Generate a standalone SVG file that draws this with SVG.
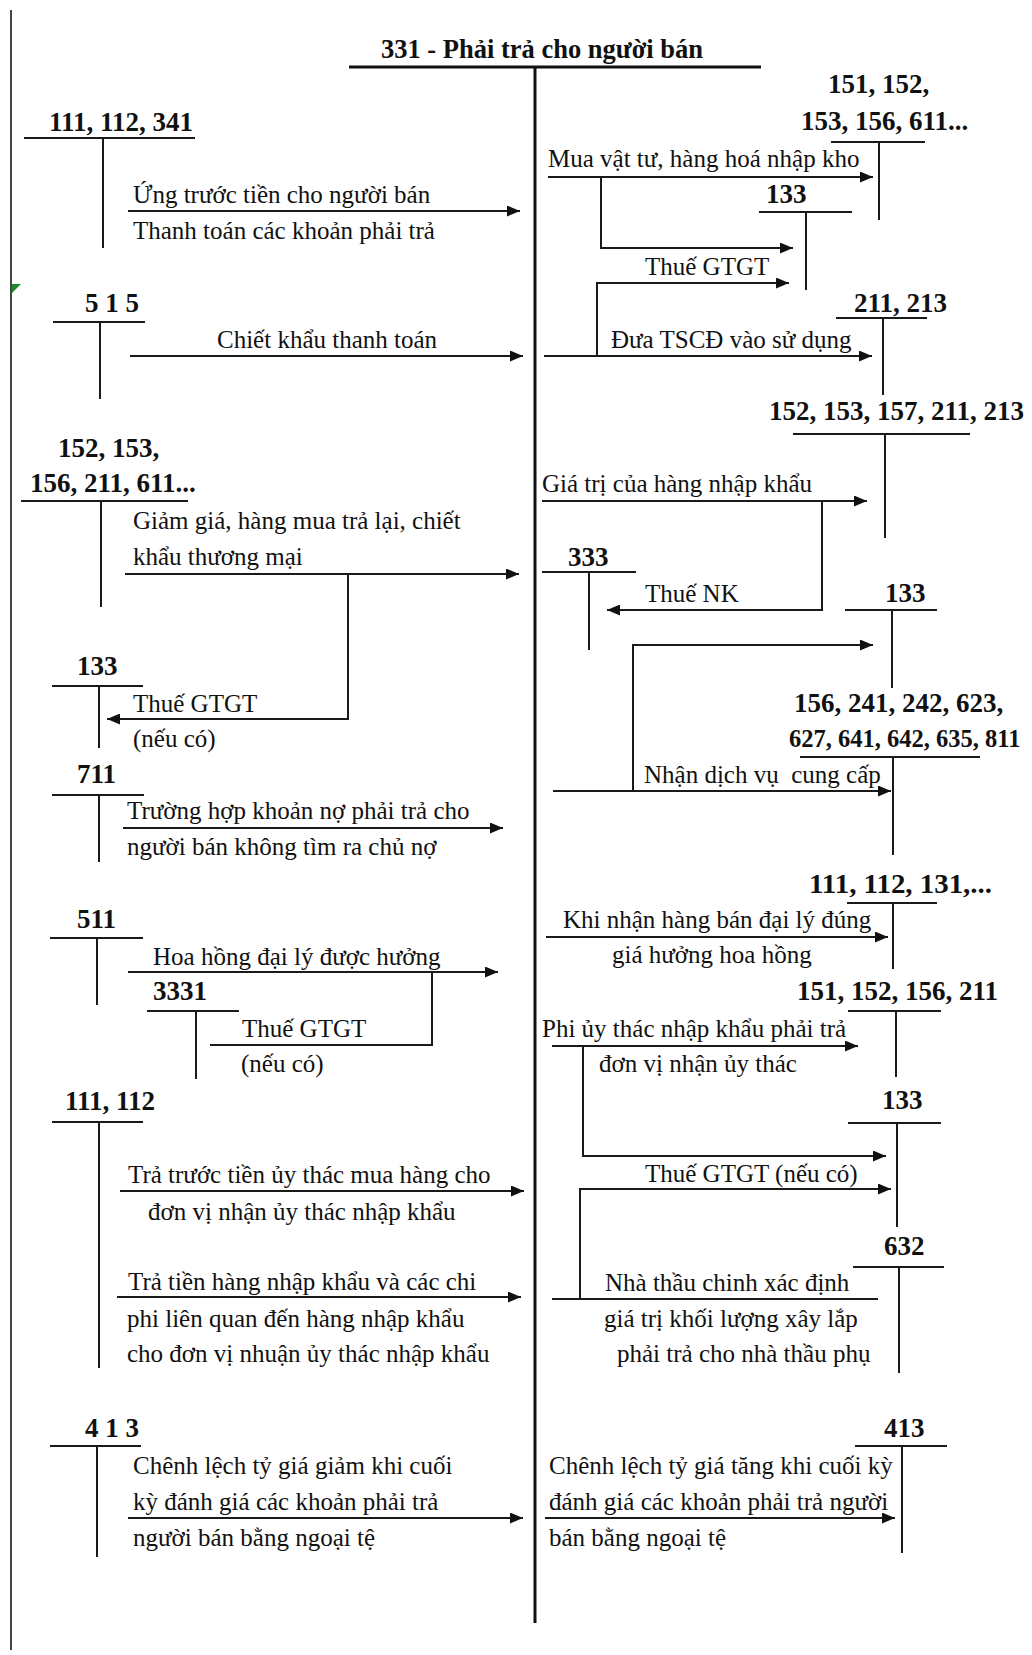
<svg xmlns="http://www.w3.org/2000/svg" width="1032" height="1655" viewBox="0 0 1032 1655">
<style>
.t{font-family:"Liberation Serif","Times New Roman",serif;font-size:25px;fill:#111;white-space:pre}
.b{font-family:"Liberation Serif","Times New Roman",serif;font-size:27px;font-weight:bold;fill:#111}
.ln{stroke:#1a1a1a;stroke-width:2;fill:none}
.ar{stroke:#1a1a1a;stroke-width:2;fill:none;marker-end:url(#ah)}
.main{stroke:#111;stroke-width:3;fill:none}
</style>
<defs>
<marker id="ah" viewBox="0 0 13 11" refX="13" refY="5.5" markerWidth="13" markerHeight="11" markerUnits="userSpaceOnUse" orient="auto">
<path d="M0,0 L13,5.5 L0,11 z" fill="#111"/>
</marker>
</defs>
<rect width="1032" height="1655" fill="#fff"/>
<g id="frame">
<line x1="11" y1="10" x2="11" y2="1650" stroke="#444" stroke-width="2"/>
<polygon points="12,284 21,284 12,293" fill="#1f8a2e"/>
</g>
<g id="account-331">
<text class="b" x="381" y="58" textLength="322" lengthAdjust="spacingAndGlyphs">331 - Phải trả cho người bán</text>
<line class="main" x1="349" y1="67" x2="761" y2="67"/>
<line class="main" x1="535" y1="67" x2="535" y2="1623"/>
</g>
<g id="n-111-112-341"><text class="b" x="49" y="131">111, 112, 341</text><path class="ln" d="M24,138 H195 M103,138 V248"/></g>
<g id="n-515"><text class="b" x="85" y="312">5 1 5</text><path class="ln" d="M53,322 H145 M100,322 V399"/></g>
<g id="n-152-153-156"><text class="b" x="58" y="457">152, 153,</text><text class="b" x="30" y="492">156, 211, 611...</text><path class="ln" d="M21,501 H188 M101,501 V607"/></g>
<g id="n-133-left"><text class="b" x="77" y="675">133</text><path class="ln" d="M52,686 H143 M99,686 V748"/></g>
<g id="n-711"><text class="b" x="77" y="783">711</text><path class="ln" d="M52,795 H144 M99,795 V862"/></g>
<g id="n-511"><text class="b" x="77" y="928">511</text><path class="ln" d="M50,938 H143 M97,938 V1005"/></g>
<g id="n-3331"><text class="b" x="153" y="1000">3331</text><path class="ln" d="M147,1011 H239 M196,1011 V1079"/></g>
<g id="n-111-112"><text class="b" x="65" y="1110">111, 112</text><path class="ln" d="M52,1122 H143 M99,1122 V1368"/></g>
<g id="n-413-left"><text class="b" x="85" y="1437">4 1 3</text><path class="ln" d="M50,1446 H141 M97,1446 V1557"/></g>
<g id="n-151-152-153"><text class="b" x="828" y="93">151, 152,</text><text class="b" x="801" y="130">153, 156, 611...</text><path class="ln" d="M831,142 H925 M879,142 V220"/></g>
<g id="n-133-r1"><text class="b" x="766" y="203">133</text><path class="ln" d="M759,212 H852 M806,212 V290"/></g>
<g id="n-211-213"><text class="b" x="854" y="312">211, 213</text><path class="ln" d="M836,318 H927 M883,318 V395"/></g>
<g id="n-152-157"><text class="b" x="769" y="420">152, 153, 157, 211, 213</text><path class="ln" d="M793,434 H970 M885,434 V538"/></g>
<g id="n-333"><text class="b" x="568" y="566">333</text><path class="ln" d="M542,572 H636 M589,572 V650"/></g>
<g id="n-133-r2"><text class="b" x="885" y="602">133</text><path class="ln" d="M845,610 H937 M892,610 V688"/></g>
<g id="n-156-241"><text class="b" x="794" y="712">156, 241, 242, 623,</text><text class="b" x="789" y="747" style="font-size:24.5px">627, 641, 642, 635, 811</text><path class="ln" d="M800,757 H980 M893,757 V855"/></g>
<g id="n-111-112-131"><text class="b" x="809" y="893" textLength="183" lengthAdjust="spacingAndGlyphs">111, 112, 131,...</text><path class="ln" d="M847,903 H937 M893,903 V969"/></g>
<g id="n-151-152-156-211"><text class="b" x="797" y="1000">151, 152, 156, 211</text><path class="ln" d="M848,1011 H941 M896,1011 V1077"/></g>
<g id="n-133-r3"><text class="b" x="882" y="1109">133</text><path class="ln" d="M848,1123 H941 M897,1123 V1227"/></g>
<g id="n-632"><text class="b" x="884" y="1255">632</text><path class="ln" d="M853,1267 H944 M899,1267 V1373"/></g>
<g id="n-413-right"><text class="b" x="884" y="1437">413</text><path class="ln" d="M855,1446 H947 M902,1446 V1553"/></g>
<g id="connectors">
<path class="ar" d="M128,211 H520"/>
<path class="ar" d="M130,356 H523"/>
<path class="ar" d="M125,574 H519"/>
<path class="ar" d="M348,574 V719 H107"/>
<path class="ar" d="M123,828 H503"/>
<path class="ar" d="M128,972 H498"/>
<path class="ln" d="M432,972 V1045 H210"/>
<path class="ar" d="M120,1191 H524"/>
<path class="ar" d="M117,1297 H521"/>
<path class="ar" d="M128,1518 H523"/>
<path class="ar" d="M548,177 H873"/>
<path class="ar" d="M601,177 V248 H793"/>
<path class="ar" d="M544,356 H872"/>
<path class="ar" d="M597,356 V283 H789"/>
<path class="ar" d="M542,501 H867"/>
<path class="ar" d="M822,501 V610 H607"/>
<path class="ar" d="M553,791 H891"/>
<path class="ar" d="M633,791 V645 H873"/>
<path class="ar" d="M546,937 H888"/>
<path class="ar" d="M552,1046 H858"/>
<path class="ar" d="M583,1046 V1156 H886"/>
<path class="ln" d="M552,1299 H878"/>
<path class="ar" d="M580,1299 V1189 H891"/>
<path class="ar" d="M545,1518 H895"/>
</g>
<g id="labels">
<text class="t" x="133" y="203">Ứng trước tiền cho người bán</text>
<text class="t" x="133" y="239">Thanh toán các khoản phải trả</text>
<text class="t" x="217" y="348">Chiết khẩu thanh toán</text>
<text class="t" x="133" y="529">Giảm giá, hàng mua trả lại, chiết</text>
<text class="t" x="133" y="565">khẩu thương mại</text>
<text class="t" x="133" y="712">Thuế GTGT</text>
<text class="t" x="133" y="747">(nếu có)</text>
<text class="t" x="127" y="819">Trường hợp khoản nợ phải trả cho</text>
<text class="t" x="127" y="855">người bán không tìm ra chủ nợ</text>
<text class="t" x="153" y="965">Hoa hồng đại lý được hưởng</text>
<text class="t" x="242" y="1037">Thuế GTGT</text>
<text class="t" x="241" y="1072">(nếu có)</text>
<text class="t" x="128" y="1183">Trả trước tiền ủy thác mua hàng cho</text>
<text class="t" x="148" y="1220">đơn vị nhận ủy thác nhập khẩu</text>
<text class="t" x="128" y="1290">Trả tiền hàng nhập khẩu và các chi</text>
<text class="t" x="127" y="1327">phi liên quan đến hàng nhập khẩu</text>
<text class="t" x="127" y="1362">cho đơn vị nhuận ủy thác nhập khẩu</text>
<text class="t" x="133" y="1474">Chênh lệch tỷ giá giảm khi cuối</text>
<text class="t" x="133" y="1510">kỳ đánh giá các khoản phải trả</text>
<text class="t" x="133" y="1546">người bán bằng ngoại tệ</text>
<text class="t" x="548" y="167">Mua vật tư, hàng hoá nhập kho</text>
<text class="t" x="645" y="275">Thuế GTGT</text>
<text class="t" x="611" y="348">Đưa TSCĐ vào sử dụng</text>
<text class="t" x="542" y="492">Giá trị của hàng nhập khẩu</text>
<text class="t" x="645" y="602">Thuế NK</text>
<text class="t" x="644" y="783">Nhận dịch vụ  cung cấp</text>
<text class="t" x="563" y="928">Khi nhận hàng bán đại lý đúng</text>
<text class="t" x="612" y="963">giá hưởng hoa hồng</text>
<text class="t" x="542" y="1037">Phi ủy thác nhập khẩu phải trả</text>
<text class="t" x="599" y="1072">đơn vị nhận ủy thác</text>
<text class="t" x="645" y="1182">Thuế GTGT (nếu có)</text>
<text class="t" x="605" y="1291">Nhà thầu chinh xác định</text>
<text class="t" x="604" y="1327">giá trị khối lượng xây lắp</text>
<text class="t" x="617" y="1362">phải trả cho nhà thầu phụ</text>
<text class="t" x="549" y="1474">Chênh lệch tỷ giá tăng khi cuối kỳ</text>
<text class="t" x="549" y="1510">đánh giá các khoản phải trả người</text>
<text class="t" x="549" y="1546">bán bằng ngoại tệ</text>
</g>
</svg>
